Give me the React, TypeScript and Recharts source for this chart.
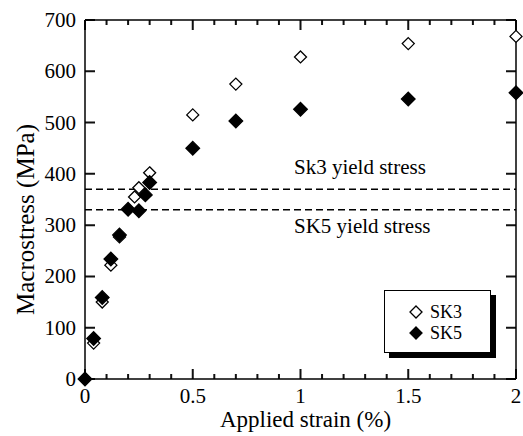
import { ScatterChart, Scatter, XAxis, YAxis, ReferenceLine, Legend } from 'recharts';

// strain (%) / macrostress (MPa)
const sk3Strain = [0.04, 0.08, 0.12, 0.16, 0.23, 0.25, 0.3, 0.5, 0.7, 1.0, 1.5, 2.0];
const sk3Stress = [70, 150, 222, 277, 355, 373, 402, 515, 575, 628, 654, 668];
const sk5Strain = [0, 0.04, 0.08, 0.12, 0.16, 0.2, 0.25, 0.28, 0.3, 0.5, 0.7, 1.0, 1.5, 2.0];
const sk5Stress = [0, 79, 159, 234, 281, 331, 328, 359, 383, 450, 503, 526, 546, 558];

const yieldSk3 = 370;
const yieldSk5 = 330;

const xMajor = [0, 0.5, 1, 1.5, 2];
const xTicks = [0, 0.1, 0.2, 0.3, 0.4, 0.5, 0.6, 0.7, 0.8, 0.9, 1, 1.1, 1.2, 1.3, 1.4, 1.5, 1.6, 1.7, 1.8, 1.9, 2];
const yTicks = [0, 100, 200, 300, 400, 500, 600, 700];

const sk3 = sk3Strain.map((x, i) => ({ x, y: sk3Stress[i] }));
const sk5 = sk5Strain.map((x, i) => ({ x, y: sk5Stress[i] }));

const FONT = 'Liberation Serif';
const SW = 1.5;
const TICK = '#111';

const diamond = (filled: boolean, r: number) => (p: any) => {
  const { cx, cy } = p;
  return (
    <polygon
      points={`${cx},${cy - r} ${cx + r},${cy} ${cx},${cy + r} ${cx - r},${cy}`}
      fill={filled ? '#000' : '#fff'}
      stroke="#000"
      strokeWidth={1.3}
    />
  );
};

// inward tick marks at both ends of a vertical / horizontal reference line
const vTick = (len: number) => (p: any) => {
  const x = Number(p.x1 ?? p.points?.[0]?.x);
  const ya = Number(p.y1 ?? p.points?.[0]?.y);
  const yb = Number(p.y2 ?? p.points?.[1]?.y);
  const top = Math.min(ya, yb);
  const bot = Math.max(ya, yb);
  return <path d={`M${x},${bot}V${bot - len}M${x},${top}V${top + len}`} stroke={TICK} strokeOpacity={1} strokeWidth={2} fill="none" />;
};
const hTick = (len: number) => (p: any) => {
  const y = Number(p.y1 ?? p.points?.[0]?.y);
  const xa = Number(p.x1 ?? p.points?.[0]?.x);
  const xb = Number(p.x2 ?? p.points?.[1]?.x);
  const l = Math.min(xa, xb);
  const r = Math.max(xa, xb);
  return <path d={`M${l},${y}H${l + len}M${r},${y}H${r - len}`} stroke={TICK} strokeOpacity={1} strokeWidth={2} fill="none" />;
};

const BottomLabel = (p: any) =>
  xMajor.includes(p.payload.value) ? (
    <text x={Number(p.x)} y={Number(p.y) + 24} textAnchor="middle" fontSize={21} fontFamily={FONT} fill="#000">{String(p.payload.value)}</text>
  ) : null;

const LeftLabel = (p: any) => (
  <text x={Number(p.x) - 9} y={Number(p.y) + 7} textAnchor="end" fontSize={21} fontFamily={FONT} fill="#000">{p.payload.value}</text>
);

const LegendBox = () => (
  <div style={{ width: 105, height: 61, border: '1px solid #000', background: '#fff', boxShadow: '5px 5px 0 #000' }}>
    <svg width={105} height={61}>
      <polygon points="31,15 37,21 31,27 25,21" fill="#fff" stroke="#000" strokeWidth={1.3} />
      <text x={45} y={27} fontSize={18} fontFamily={FONT} fill="#000">SK3</text>
      <polygon points="31,36 37,42 31,48 25,42" fill="#000" stroke="#000" strokeWidth={1.3} />
      <text x={45} y={48} fontSize={18} fontFamily={FONT} fill="#000">SK5</text>
    </svg>
  </div>
);

export default function App() {
  return (
    <div style={{ position: 'absolute', left: 0, top: 0, width: 523, height: 436, background: '#fff' }}>
      <ScatterChart width={523} height={436} margin={{ top: 19, right: 6, bottom: 0, left: 0 }}>
        <XAxis
          xAxisId="b"
          type="number"
          dataKey="x"
          domain={[0, 2]}
          ticks={xTicks}
          interval={0}
          height={57}
          tickSize={0}
          tickMargin={0}
          tickLine={false}
          tick={<BottomLabel />}
          axisLine={{ stroke: '#000', strokeWidth: SW }}
          label={{
            content: (p: any) => {
              const vb = p.viewBox;
              return (
                <text x={vb.x + vb.width / 2 + 5} y={vb.y + 48} textAnchor="middle" fontSize={23} fontFamily={FONT} fill="#000">
                  Applied strain (%)
                </text>
              );
            },
          }}
        />
        <XAxis xAxisId="t" orientation="top" type="number" dataKey="x" domain={[0, 2]} height={1} tick={false} tickLine={false} axisLine={{ stroke: '#000', strokeWidth: SW }} />
        <YAxis
          yAxisId="l"
          type="number"
          dataKey="y"
          domain={[0, 700]}
          ticks={yTicks}
          interval={0}
          width={85}
          tickSize={0}
          tickMargin={0}
          tickLine={false}
          tick={<LeftLabel />}
          axisLine={{ stroke: '#000', strokeWidth: SW }}
          label={{
            content: (p: any) => {
              const vb = p.viewBox;
              const cx = vb.x + 34;
              const cy = vb.y + vb.height / 2 + 20;
              return (
                <text x={cx} y={cy} transform={`rotate(-90 ${cx} ${cy})`} textAnchor="middle" fontSize={25} fontFamily={FONT} fill="#000">
                  Macrostress (MPa)
                </text>
              );
            },
          }}
        />
        <YAxis yAxisId="r" orientation="right" type="number" dataKey="y" domain={[0, 700]} width={1} tick={false} tickLine={false} axisLine={{ stroke: '#000', strokeWidth: SW }} />
        {xTicks.map((v) => (
          <ReferenceLine key={`xt${v}`} xAxisId="b" yAxisId="l" x={v} stroke={TICK} shape={vTick(xMajor.includes(v) ? 10 : 5)} />
        ))}
        {yTicks.map((v) => (
          <ReferenceLine key={`yt${v}`} xAxisId="b" yAxisId="l" y={v} stroke={TICK} shape={hTick(10)} />
        ))}
        <ReferenceLine
          xAxisId="b"
          yAxisId="l"
          y={yieldSk3}
          stroke="#000"
          strokeWidth={SW}
          strokeDasharray="7 4"
          label={{
            content: (p: any) => (
              <text x={p.viewBox.x + 209} y={p.viewBox.y - 15} fontSize={21} fontFamily={FONT} fill="#000">Sk3 yield stress</text>
            ),
          }}
        />
        <ReferenceLine
          xAxisId="b"
          yAxisId="l"
          y={yieldSk5}
          stroke="#000"
          strokeWidth={SW}
          strokeDasharray="7 4"
          label={{
            content: (p: any) => (
              <text x={p.viewBox.x + 209} y={p.viewBox.y + 23} fontSize={21} fontFamily={FONT} fill="#000">SK5 yield stress</text>
            ),
          }}
        />
        <Scatter name="SK3" data={sk3} xAxisId="b" yAxisId="l" shape={diamond(false, 6)} isAnimationActive={false} />
        <Scatter name="SK5" data={sk5} xAxisId="b" yAxisId="l" shape={diamond(true, 6.8)} isAnimationActive={false} />
        <Legend
          layout="vertical"
          align="center"
          verticalAlign="middle"
          wrapperStyle={{ position: 'absolute', left: 384, top: 290, width: 107, height: 63 }}
          content={() => <LegendBox />}
        />
      </ScatterChart>
    </div>
  );
}
